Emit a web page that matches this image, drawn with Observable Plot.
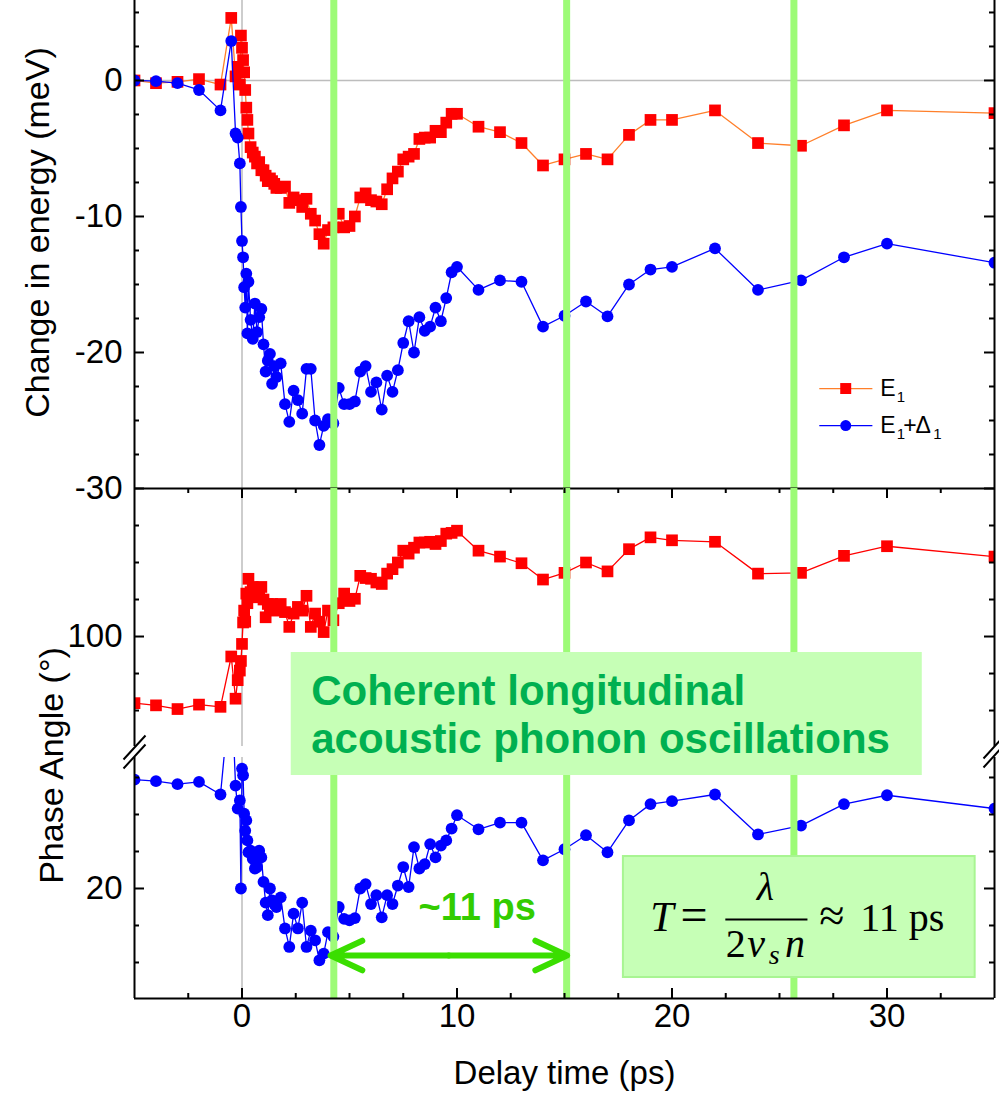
<!DOCTYPE html>
<html>
<head>
<meta charset="utf-8">
<script src="https://cdn.jsdelivr.net/npm/d3@7"></script>
<script src="https://cdn.jsdelivr.net/npm/@observablehq/plot@0.6"></script>
<style>
  body { margin: 0; background: #fff; }
  #chart { position: relative; width: 999px; height: 1110px; overflow: hidden; background: #fff; }
  #chart svg { position: absolute; left: 0; overflow: visible !important; background: transparent !important;
               font-family: "Liberation Sans", Arial, sans-serif; }
</style>
</head>
<body>
<div id="chart"></div>
<script>
// ---------------- DATA ----------------
const T = [-5,-4,-3,-2,-1,-0.5,-0.3,-0.2,-0.1,-0.05,0,0.05,0.1,0.15,0.2,0.25,0.3,0.4,0.5,0.6,0.7,0.8,0.9,1.0,1.1,1.2,1.3,1.4,1.5,1.6,1.8,2.0,2.2,2.4,2.6,2.8,3.0,3.2,3.4,3.6,3.8,4.0,4.25,4.5,4.75,5.0,5.25,5.5,5.75,6.0,6.25,6.5,6.75,7.0,7.25,7.5,7.75,8.0,8.25,8.5,8.75,9.0,9.25,9.5,9.75,10,11,12,13,14,15,16,17,18,19,20,22,24,26,28,30,35];
// Change in energy, E1 (meV)
const E1 = [0,-0.2,-0.1,0.1,-0.3,4.6,0.3,1.0,-0.3,3.3,2.4,1.5,0.6,-0.7,-2.0,-2.9,-3.9,-4.9,-5.3,-5.6,-6.1,-6.0,-6.6,-6.6,-7.0,-7.4,-7.2,-7.4,-7.6,-7.9,-7.9,-7.8,-9.0,-8.6,-8.8,-9.3,-8.7,-9.8,-10.3,-11.3,-12.0,-11.0,-10.8,-9.8,-10.8,-10.7,-10.0,-8.6,-8.3,-8.8,-8.9,-9.1,-8.0,-7.2,-6.7,-5.8,-5.6,-5.4,-4.3,-4.2,-4.2,-3.7,-3.8,-3.1,-2.45,-2.45,-3.4,-3.8,-4.6,-6.25,-5.8,-5.4,-5.8,-4.0,-2.9,-2.9,-2.2,-4.6,-4.8,-3.3,-2.2,-2.4];
// Change in energy, E1+Δ1 (meV)
const E1D = [0,-0.05,-0.2,-0.7,-2.2,2.9,-3.9,-4.2,-6.1,-9.3,-11.8,-13.0,-15.2,-16.7,-14.2,-18.6,-14.8,-17.6,-19.0,-16.4,-18.5,-17.4,-16.8,-19.4,-21.4,-20.6,-20.1,-22.3,-21.0,-21.8,-20.8,-23.8,-25.1,-22.8,-23.5,-24.5,-21.2,-21.2,-25.0,-26.8,-25.4,-24.9,-25.2,-22.6,-23.8,-23.8,-23.6,-21.4,-21.0,-22.9,-22.2,-24.2,-21.7,-22.9,-21.3,-19.3,-17.7,-20.0,-17.4,-18.4,-18.1,-16.7,-17.7,-16.0,-14.1,-13.7,-15.4,-14.7,-14.8,-18.1,-17.3,-16.25,-17.35,-15.0,-13.9,-13.7,-12.35,-15.4,-14.7,-13.0,-12.0,-13.4];
// Phase angle, E1 (degrees)
const P1 = [91.0,90.7,90.2,90.8,90.5,97.3,91.6,94.1,95.4,96.7,99.0,101.9,103.5,102.0,105.8,104.5,107.8,106.0,106.7,105.8,105.3,106.2,106.7,105.0,102.6,104.4,103.8,104.4,104.0,103.5,104.4,103.3,101.3,103.1,104.0,103.5,105.5,101.3,103.1,102.0,100.6,103.5,102.2,104.5,105.8,104.8,105.1,108.2,107.9,107.8,107.3,107.1,108.5,109.1,110.0,111.6,111.2,112.0,112.7,112.7,112.8,112.5,112.9,113.9,114.0,114.3,111.6,110.8,109.9,107.7,108.6,110.0,108.8,111.8,113.4,113.0,112.8,108.5,108.6,110.9,112.2,110.8];
// Phase angle, E1+Δ1 (degrees)
const P2 = [34.7,34.5,34.1,34.4,32.7,48,33.9,30.8,31.9,20.0,36.2,35.3,30.1,27.8,29.2,26.5,24.9,25.1,24.0,22.7,22.9,25.1,24.2,20.9,18.1,16.4,20.0,18.4,17.9,17.5,18.8,14.6,12.1,16.6,14.6,18.1,12.1,14.3,13.0,10.3,11.2,14.1,13.5,17.5,15.9,15.7,16.0,20.0,20.6,17.9,19.1,16.1,19.1,17.9,20.4,22.9,20.2,25.6,22.7,23.3,26.0,24.2,25.8,26.5,28.1,29.9,28.0,28.9,28.9,23.8,25.3,27.2,24.9,29.2,31.4,31.8,32.7,27.3,28.5,31.4,32.6,30.8];

const seriesNames = ["E1", "E1+Δ1"];
const energyTicks = [-30, -20, -10, 0];
const phaseTicksUpper = [100];
const phaseTicksLower = [20];
const timeTicks = [0, 10, 20, 30];
const phononT = [4.27, 15.10, 25.67];
const boxText = ["Coherent longitudinal", "acoustic phonon oscillations"];

// ---------------- LAYOUT / STYLE ----------------
const W = 999, ML = 134, MR = 5, PW = W - ML - MR;
const xDomain = [-5, 35];
const energyDomain = [-30, 5.88];
const phaseHighDomain = [85.14, 120];
const phaseLowDomain = [5.135, 37.7];
const HA = 489, HB = 258, HCp = 241, HC = 353;
const RED = "#ff0000", ORANGE = "#ff7f2a", BLUE = "#0000ff", GRID = "#bdbdbd",
      PHONON = "#9dfb77", BOXFILL = "#c6ffb6", BOXSTROKE = "#a8f592", DARKGREEN = "#00b050",
      ARROW = "#3ade00", ARROWTXT = "#33cc00";
const SERIF = '"Liberation Serif", "DejaVu Serif", serif';

const rows = T.map((t, i) => ({t, e1: E1[i], e1d: E1D[i], p1: P1[i], p2: P2[i]}));

const xMinor = d3.range(-2.5, 35, 2.5).filter(v => v % 10 !== 0);
const commonStyle = {background: "transparent", overflow: "visible"};

function yTicks(values, len) {
  return [
    Plot.tickY(values, {y: d => d, insetRight: PW - len, stroke: "black", strokeWidth: 2}),
    Plot.tickY(values, {y: d => d, insetLeft: PW - len, stroke: "black", strokeWidth: 2})
  ];
}

const breakSymbol = {
  draw(ctx) {
    ctx.moveTo(-11, 16.5); ctx.lineTo(11, -7.5);
    ctx.moveTo(-11, 7.5); ctx.lineTo(11, -16.5);
  }
};

// ---------------- PANEL A: energy ----------------
const energyMinor = d3.range(-27.5, 5.1, 2.5).filter(v => v % 10 !== 0);
const legendY = [-22.65, -25.37];
const legend = [
  {x1: 26.85, x2: 29.32, xm: 28.08, y: legendY[0], line: ORANGE, fill: RED},
  {x1: 26.85, x2: 29.32, xm: 28.08, y: legendY[1], line: BLUE, fill: BLUE}
];
// legend label pieces (main glyphs and subscripts), split from the series names
const legendMain = [
  {s: seriesNames[0].slice(0, 1), t: 29.69, y: legendY[0]},
  {s: seriesNames[1].slice(0, 1), t: 29.69, y: legendY[1]},
  {s: seriesNames[1].slice(2, 3), t: 30.76, y: legendY[1]},
  {s: seriesNames[1].slice(3, 4), t: 31.32, y: legendY[1]}
];
const legendSub = [
  {s: seriesNames[0].slice(1, 2), t: 30.45, y: legendY[0]},
  {s: seriesNames[1].slice(1, 2), t: 30.45, y: legendY[1]},
  {s: seriesNames[1].slice(4, 5), t: 32.15, y: legendY[1]}
];

const plotA = Plot.plot({
  width: W, height: HA, marginLeft: ML, marginRight: MR, marginTop: 0, marginBottom: 1,
  x: {domain: xDomain, axis: null},
  y: {domain: energyDomain, axis: null},
  style: commonStyle,
  marks: [
    Plot.ruleY([0], {stroke: GRID, strokeWidth: 1.5}),
    Plot.ruleX([0], {stroke: GRID, strokeWidth: 1.5}),
    Plot.line(rows, {x: "t", y: "e1", stroke: ORANGE, strokeWidth: 1.3, clip: true}),
    Plot.dot(rows, {x: "t", y: "e1", symbol: "square", r: 6.6, fill: RED, clip: true}),
    Plot.line(rows, {x: "t", y: "e1d", stroke: BLUE, strokeWidth: 1.3, clip: true}),
    Plot.dot(rows, {x: "t", y: "e1d", r: 5.9, fill: BLUE, clip: true}),
    Plot.ruleX(phononT, {stroke: PHONON, strokeWidth: 7}),
    Plot.ruleX(xDomain, {stroke: "black", strokeWidth: 2}),
    Plot.ruleY([energyDomain[0]], {stroke: "black", strokeWidth: 2}),
    ...yTicks(energyMinor, 5),
    ...yTicks(energyTicks, 10),
    Plot.text(energyTicks, {y: d => d, text: d => String(d), frameAnchor: "left", textAnchor: "end", dx: -12, fontSize: 33, fill: "black"}),
    Plot.text(["Change in energy (meV)"], {frameAnchor: "left", textAnchor: "middle", rotate: -90, dx: -96, dy: -12, fontSize: 34, fill: "black"}),
    Plot.link(legend, {x1: "x1", x2: "x2", y1: "y", y2: "y", stroke: "line", strokeWidth: 1.3}),
    Plot.dot(legend.slice(0, 1), {x: "xm", y: "y", symbol: "square", r: 6.2, fill: "fill"}),
    Plot.dot(legend.slice(1), {x: "xm", y: "y", r: 5.5, fill: "fill"}),
    Plot.text(legendMain, {x: "t", y: "y", text: "s", textAnchor: "start", fontSize: 23, fill: "black"}),
    Plot.text(legendSub, {x: "t", y: "y", text: "s", textAnchor: "start", fontSize: 15, dy: 9, fill: "black"})
  ]
});

// ---------------- PANEL B: phase, upper segment ----------------
const plotB = Plot.plot({
  width: W, height: HB, marginLeft: ML, marginRight: MR, marginTop: 0, marginBottom: 0,
  x: {domain: xDomain, axis: null},
  y: {domain: phaseHighDomain, axis: null},
  style: commonStyle,
  marks: [
    Plot.ruleX([0], {stroke: GRID, strokeWidth: 1.5}),
    Plot.line(rows, {x: "t", y: "p1", stroke: RED, strokeWidth: 1.3, clip: true}),
    Plot.dot(rows, {x: "t", y: "p1", symbol: "square", r: 6.6, fill: RED, clip: true}),
    Plot.ruleX(phononT, {stroke: PHONON, strokeWidth: 7}),
    Plot.ruleX(xDomain, {stroke: "black", strokeWidth: 2}),
    ...yTicks([90, 95, 105, 110, 115], 5),
    ...yTicks(phaseTicksUpper, 10),
    Plot.tickX(xMinor, {x: d => d, insetBottom: HB - 5, stroke: "black", strokeWidth: 2}),
    Plot.tickX(timeTicks, {x: d => d, insetBottom: HB - 10, stroke: "black", strokeWidth: 2}),
    Plot.text(phaseTicksUpper, {y: d => d, text: d => String(d), frameAnchor: "left", textAnchor: "end", dx: -12, fontSize: 33, fill: "black"}),
    Plot.rect([{x1: 2.29, x2: 31.64, y1: 81.22, y2: 97.84}], {x1: "x1", x2: "x2", y1: "y1", y2: "y2", fill: BOXFILL}),
    Plot.text([{s: boxText[0], t: 3.22, p: 90.68}, {s: boxText[1], t: 3.22, p: 84.32}],
      {x: "t", y: "p", text: "s", textAnchor: "start", lineAnchor: "bottom", fontSize: 42, fontWeight: "bold", fill: DARKGREEN}),
    Plot.dot([0], {frameAnchor: "bottom-left", dy: 5.5, symbol: breakSymbol, stroke: "black", strokeWidth: 2, fill: "none"}),
    Plot.dot([0], {frameAnchor: "bottom-right", dy: 4.5, symbol: breakSymbol, stroke: "black", strokeWidth: 2, fill: "none"})
  ]
});

// ---------------- PANEL C: phase, lower segment + x axis ----------------
const formulaItalic = [
  {s: "T", t: 18.99, p: 14.32, fs: 42, a: "start"},
  {s: "λ", t: 24.34, p: 18.38, fs: 40, a: "middle"},
  {s: "v", t: 23.5, p: 10.68, fs: 40, a: "start"},
  {s: "s", t: 24.5, p: 9.73, fs: 28, a: "start"},
  {s: "n", t: 25.25, p: 10.68, fs: 40, a: "start"}
];
const formulaRegular = [
  {s: "=", t: 20.39, p: 14.32, fs: 48},
  {s: "2", t: 22.5, p: 10.68, fs: 40},
  {s: "≈", t: 26.85, p: 14.32, fs: 46},
  {s: "11 ps", t: 28.75, p: 14.32, fs: 40}
];

const plotC = Plot.plot({
  width: W, height: HC, marginLeft: ML, marginRight: MR, marginTop: 0, marginBottom: HC - HCp,
  x: {domain: xDomain, axis: null},
  y: {domain: phaseLowDomain, axis: null},
  style: commonStyle,
  marks: [
    Plot.ruleX([0], {stroke: GRID, strokeWidth: 1.5}),
    Plot.line(rows, {x: "t", y: "p2", stroke: BLUE, strokeWidth: 1.3, clip: true}),
    Plot.dot(rows, {x: "t", y: "p2", r: 5.9, fill: BLUE, clip: true}),
    Plot.ruleX(phononT, {stroke: PHONON, strokeWidth: 7}),
    Plot.ruleX(xDomain, {stroke: "black", strokeWidth: 2}),
    Plot.ruleY([phaseLowDomain[0]], {stroke: "black", strokeWidth: 2}),
    ...yTicks([10, 15, 25, 30, 35], 5),
    ...yTicks(phaseTicksLower, 10),
    Plot.tickX(xMinor, {x: d => d, insetTop: HCp - 5, stroke: "black", strokeWidth: 2}),
    Plot.tickX(timeTicks, {x: d => d, insetTop: HCp - 10, stroke: "black", strokeWidth: 2}),
    Plot.text(phaseTicksLower, {y: d => d, text: d => String(d), frameAnchor: "left", textAnchor: "end", dx: -12, fontSize: 33, fill: "black"}),
    Plot.text(timeTicks, {x: d => d, text: d => String(d), frameAnchor: "bottom", textAnchor: "middle", dy: 28.5, fontSize: 33, fill: "black"}),
    Plot.text(["Delay time (ps)"], {frameAnchor: "bottom", textAnchor: "middle", dy: 85, fontSize: 33, fill: "black"}),
    Plot.text(["Phase Angle (°)"], {frameAnchor: "top-left", textAnchor: "middle", rotate: -90, dx: -96, dy: 8, fontSize: 34, fill: "black"}),
    // ~11 ps double arrow
    Plot.arrow([{x1: 9.62, x2: 4.12}, {x1: 9.62, x2: 15.12}], {x1: "x1", x2: "x2", y1: () => 10.95, y2: () => 10.95,
      stroke: ARROW, strokeWidth: 6, headLength: 8.75, headAngle: 50, strokeLinecap: "round", strokeLinejoin: "round"}),
    Plot.text(["~11 ps"], {x: () => 10.94, y: () => 15.68, textAnchor: "middle", lineAnchor: "bottom", fontSize: 38, fontWeight: "bold", fill: ARROWTXT}),
    // formula box
    Plot.rect([{x1: 17.74, x2: 34.1, y1: 7.97, y2: 24.32}], {x1: "x1", x2: "x2", y1: "y1", y2: "y2", fill: BOXFILL, stroke: BOXSTROKE, strokeWidth: 2}),
    Plot.text(formulaItalic, {x: "t", y: "p", text: "s", fontSize: "fs", textAnchor: "start", lineAnchor: "bottom", fontStyle: "italic", fontFamily: SERIF, fill: "black", filter: d => d.a === "start"}),
    Plot.text(formulaItalic, {x: "t", y: "p", text: "s", fontSize: "fs", textAnchor: "middle", lineAnchor: "bottom", fontStyle: "italic", fontFamily: SERIF, fill: "black", filter: d => d.a === "middle"}),
    Plot.text(formulaRegular, {x: "t", y: "p", text: "s", fontSize: "fs", textAnchor: "start", lineAnchor: "bottom", fontFamily: SERIF, fill: "black"}),
    Plot.link([{x1: 22.48, x2: 26.3}], {x1: "x1", x2: "x2", y1: () => 15.81, y2: () => 15.81, stroke: "black", strokeWidth: 2})
  ]
});

const chart = document.getElementById("chart");
plotC.style.top = "757px";
plotA.style.top = "0px";
plotB.style.top = "488px";
chart.appendChild(plotC);
chart.appendChild(plotA);
chart.appendChild(plotB);
</script>
</body>
</html>
